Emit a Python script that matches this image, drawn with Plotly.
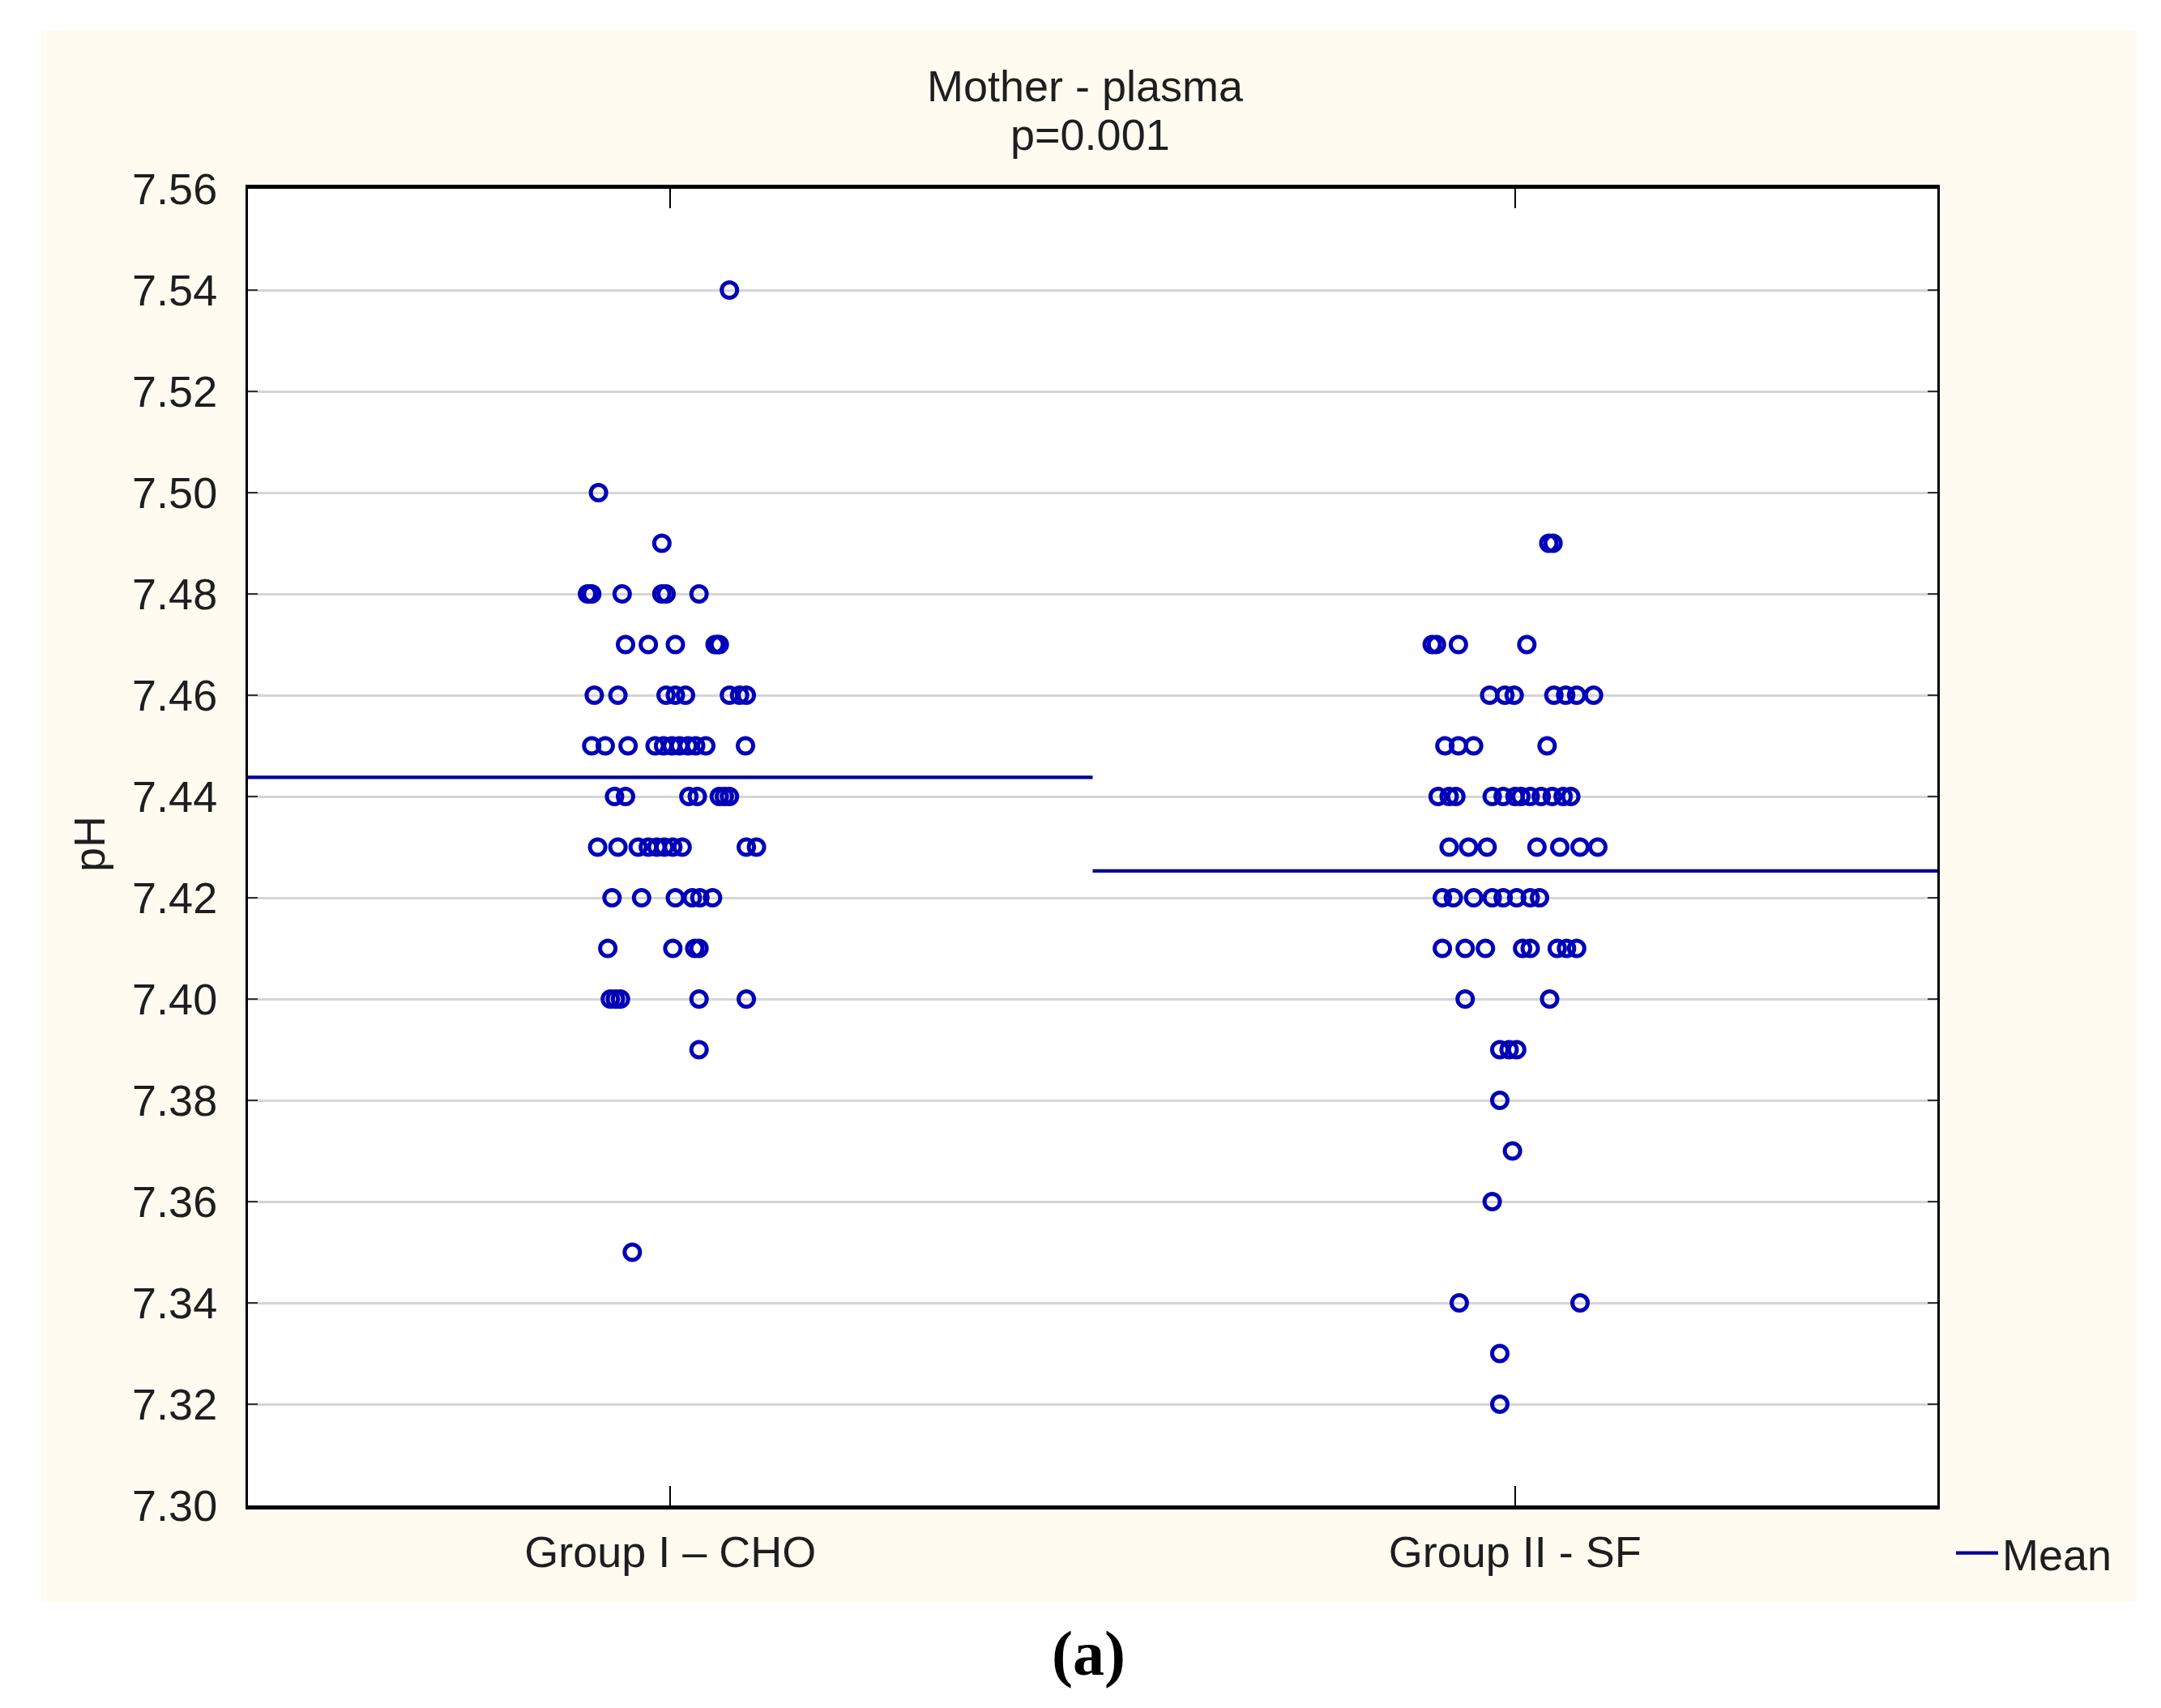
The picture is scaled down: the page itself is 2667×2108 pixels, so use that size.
import numpy as np
import plotly.graph_objects as go

categories = ["Group I \u2013 CHO", "Group II - SF"]

g1_values = [7.54, 7.50, 7.49,
             7.48, 7.48, 7.48, 7.48, 7.48, 7.48, 7.48,
             7.47, 7.47, 7.47, 7.47, 7.47, 7.47,
             7.46, 7.46, 7.46, 7.46, 7.46, 7.46, 7.46, 7.46,
             7.45, 7.45, 7.45, 7.45, 7.45, 7.45, 7.45, 7.45, 7.45, 7.45, 7.45,
             7.44, 7.44, 7.44, 7.44, 7.44, 7.44, 7.44,
             7.43, 7.43, 7.43, 7.43, 7.43, 7.43, 7.43, 7.43, 7.43, 7.43,
             7.42, 7.42, 7.42, 7.42, 7.42, 7.42,
             7.41, 7.41, 7.41, 7.41,
             7.40, 7.40, 7.40, 7.40, 7.40,
             7.39, 7.35]
g1_jitter = [0.070, -0.085, -0.010,
             -0.098, -0.095, -0.093, -0.057, -0.010, -0.005, 0.034,
             -0.053, -0.026, 0.006, 0.053, 0.056, 0.058,
             -0.090, -0.062, -0.005, 0.006, 0.018, 0.070, 0.082, 0.090,
             -0.093, -0.077, -0.050, -0.018, -0.008, 0.002, 0.011, 0.021, 0.030, 0.042, 0.089,
             -0.066, -0.053, 0.022, 0.032, 0.058, 0.064, 0.070,
             -0.086, -0.062, -0.038, -0.026, -0.016, -0.007, 0.003, 0.014, 0.090, 0.102,
             -0.069, -0.034, 0.006, 0.026, 0.035, 0.050,
             -0.074, 0.003, 0.029, 0.034,
             -0.071, -0.065, -0.059, 0.034, 0.090,
             0.034, -0.045]

g2_values = [7.49, 7.49,
             7.47, 7.47, 7.47, 7.47,
             7.46, 7.46, 7.46, 7.46, 7.46, 7.46, 7.46,
             7.45, 7.45, 7.45, 7.45,
             7.44, 7.44, 7.44, 7.44, 7.44, 7.44, 7.44, 7.44, 7.44, 7.44, 7.44, 7.44,
             7.43, 7.43, 7.43, 7.43, 7.43, 7.43, 7.43,
             7.42, 7.42, 7.42, 7.42, 7.42, 7.42, 7.42, 7.42,
             7.41, 7.41, 7.41, 7.41, 7.41, 7.41, 7.41, 7.41,
             7.40, 7.40,
             7.39, 7.39, 7.39,
             7.38, 7.37, 7.36, 7.34, 7.34, 7.33, 7.32]
g2_jitter = [0.040, 0.045,
             -0.098, -0.093, -0.067, 0.014,
             -0.030, -0.012, -0.001, 0.046, 0.060, 0.073, 0.093,
             -0.083, -0.067, -0.049, 0.038,
             -0.091, -0.078, -0.070, -0.027, -0.014, 0.000, 0.007, 0.018, 0.031, 0.044, 0.057, 0.066,
             -0.078, -0.055, -0.033, 0.026, 0.053, 0.077, 0.098,
             -0.086, -0.073, -0.049, -0.027, -0.014, 0.002, 0.018, 0.029,
             -0.086, -0.059, -0.035, 0.009, 0.018, 0.050, 0.061, 0.073,
             -0.059, 0.041,
             -0.018, -0.007, 0.002,
             -0.018, -0.003, -0.027, -0.066, 0.077, -0.018, -0.018]

y_ticks = [7.30, 7.32, 7.34, 7.36, 7.38, 7.40, 7.42, 7.44, 7.46, 7.48, 7.50, 7.52, 7.54, 7.56]

groups = [(g1_values, g1_jitter), (g2_values, g2_jitter)]

FONT = "Liberation Sans, Arial, sans-serif"
FS = 54
TXT = "#1e1e1e"
BLUE = "#0000B8"
MEANC = "#00009A"

# page has an 8px body margin; figure sized to fit inside the window
OFF = 8
W, H = 2651, 2092
L, R, T, B = 298, 268, 225, 242
PW, PH = W - L - R, H - T - B


def px(xs):
    return (xs - OFF - L) / PW


def py(ys):
    return (H - B - (ys - OFF)) / PH


fig = go.Figure()

for gi, (vals, jit) in enumerate(groups):
    fig.add_trace(go.Scatter(
        x=[gi + j for j in jit], y=vals, mode="markers",
        marker=dict(symbol="circle-open", size=19, color=BLUE, line=dict(width=5, color=BLUE)),
        showlegend=False, hoverinfo="y"))

mx, my = [], []
for gi, (vals, jit) in enumerate(groups):
    m = float(np.mean(vals))
    mx += [gi - 0.5, gi + 0.5, None]
    my += [m, m, None]
fig.add_trace(go.Scatter(x=mx, y=my, mode="lines", name="Mean",
                         line=dict(color=MEANC, width=4.2), showlegend=True))

# cream panel behind everything, white plot area on top of it
fig.add_shape(type="rect", xref="paper", yref="paper",
              x0=px(51), x1=px(2637), y0=py(1977), y1=py(37),
              fillcolor="#FFFBF0", line=dict(width=0), layer="below")
fig.add_shape(type="rect", xref="paper", yref="paper", x0=0, x1=1, y0=0, y1=1,
              fillcolor="white", line=dict(width=0), layer="below")

ann_font = dict(family=FONT, size=FS, color=TXT)
fig.add_annotation(text="Mother - plasma", xref="paper", yref="paper",
                   x=px(1339), y=py(106), showarrow=False, font=ann_font,
                   xanchor="center", yanchor="middle")
fig.add_annotation(text="p=0.001", xref="paper", yref="paper",
                   x=px(1345), y=py(166), showarrow=False, font=ann_font,
                   xanchor="center", yanchor="middle")
fig.add_annotation(text="pH", xref="paper", yref="paper", textangle=-90,
                   x=px(110), y=py(1042), showarrow=False, font=ann_font,
                   xanchor="center", yanchor="middle")
fig.add_annotation(text="<b>(a)</b>", xref="paper", yref="paper",
                   x=px(1343), y=py(2040), showarrow=False,
                   font=dict(family="Liberation Serif, Times New Roman, serif", size=78, color="black"),
                   xanchor="center", yanchor="middle")

fig.update_layout(
    width=W, height=H,
    margin=dict(l=L, r=R, t=T, b=B, pad=0),
    paper_bgcolor="white", plot_bgcolor="white",
    font=dict(family=FONT, size=FS, color=TXT),
    legend=dict(x=px(2409), y=py(1917), xanchor="left", yanchor="middle",
                bgcolor="rgba(0,0,0,0)", borderwidth=0,
                font=dict(family=FONT, size=FS, color=TXT), itemwidth=52),
    xaxis=dict(range=[-0.5, 1.5], tickvals=[0, 1], ticktext=categories,
               showgrid=False, zeroline=False, showline=True, linecolor="black",
               linewidth=5, mirror="ticks", ticks="inside", ticklen=24, tickwidth=2,
               tickcolor="black", ticklabelstandoff=6,
               tickfont=dict(family=FONT, size=FS, color=TXT)),
    yaxis=dict(range=[7.30, 7.56], tickvals=y_ticks, tickformat=".2f",
               showgrid=True, gridcolor="#D5D5D5", gridwidth=2.8, zeroline=False,
               showline=True, linecolor="black", linewidth=3, mirror="ticks",
               ticks="inside", ticklen=12, tickwidth=2, tickcolor="#333333",
               ticklabelstandoff=24,
               tickfont=dict(family=FONT, size=FS, color=TXT)),
)

fig.write_html("out.html")
